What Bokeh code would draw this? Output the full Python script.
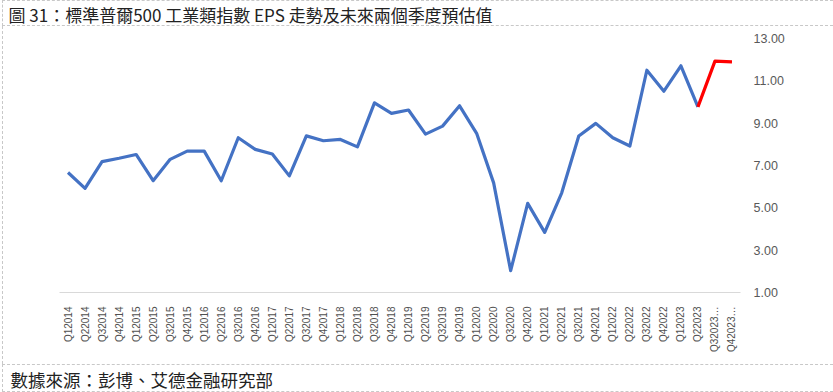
from bokeh.plotting import figure
from bokeh.layouts import column
from bokeh.models import Label, FixedTicker, NumeralTickFormatter, Range1d, FactorRange
from bokeh.embed import file_html
from bokeh.resources import INLINE
import math

title_text = "圖 31：標準普爾500 工業類指數 EPS 走勢及未來兩個季度預估值"
source_text = "數據來源：彭博、艾德金融研究部"

quarters = []
for yr in range(2014, 2024):
    for q in range(1, 5):
        quarters.append(f"Q{q}{yr}")
quarters[-2] = "Q32023…"
quarters[-1] = "Q42023…"

eps_actual = [6.67, 5.92, 7.18, 7.34,
              7.52, 6.28, 7.29, 7.68,
              7.68, 6.28, 8.31, 7.76,
              7.54, 6.51, 8.40, 8.17,
              8.23, 7.88, 9.96, 9.46,
              9.62, 8.48, 8.86, 9.82,
              8.52, 6.18, 2.03, 5.21,
              3.84, 5.71, 8.39, 8.99,
              8.31, 7.92, 11.50, 10.51,
              11.71, 9.77]
eps_forecast = [9.77, 11.93, 11.90]
y_ticks = [1, 3, 5, 7, 9, 11, 13]

W = 833
BORDER = "#c8c8c8"
DASHED = f"1px dashed {BORDER}"
STRIP_STYLES = {"margin-left": "2px", "border-left": DASHED, "border-top": DASHED, "border-bottom": DASHED}


def text_panel(height, text, tx, ty, size):
    f = figure(width=W - 2, height=height, x_range=Range1d(0, 1), y_range=Range1d(0, 1),
               x_axis_type=None, y_axis_type=None, output_backend="svg", toolbar_location=None,
               min_border_left=0, min_border_right=0, min_border_top=0, min_border_bottom=0,
               frame_align=False, styles=STRIP_STYLES)
    f.xgrid.grid_line_color = None
    f.ygrid.grid_line_color = None
    f.outline_line_color = None
    f.add_layout(Label(x=tx, y=ty, x_units="screen", y_units="screen", text=text,
                       text_font="Noto Sans CJK TC", text_font_size=size, text_color="#222222",
                       text_baseline="middle", text_align="left"))
    return f


# title strip: y 0..26 including dashed borders
t = text_panel(26, title_text, 5, 13.5, "17px")

# main chart: canvas y 26..364
ML, MR, MT, MB = 56, 94, 12, 72
p = figure(width=W - 2, height=338, x_range=FactorRange(*quarters, range_padding=0),
           y_range=Range1d(1, 13), y_axis_location="right",
           output_backend="svg", toolbar_location=None, frame_align=False,
           min_border_left=ML, min_border_right=MR, min_border_top=MT, min_border_bottom=MB,
           styles={"margin-left": "2px", "border-left": DASHED})
p.outline_line_color = None
p.xgrid.grid_line_color = None
p.ygrid.grid_line_color = None

p.line(quarters[:len(eps_actual)], eps_actual, line_color="#4472C4", line_width=3.2, line_join="round")
p.line(quarters[len(eps_actual) - 1:], eps_forecast, line_color="#FF0000", line_width=3.2, line_join="round")

xa = p.xaxis[0]
xa.axis_line_color = "#d9d9d9"
xa.axis_line_width = 1.2
xa.major_tick_line_color = None
xa.minor_tick_line_color = None
xa.major_label_orientation = math.pi / 2
xa.major_label_text_font = "Liberation Sans"
xa.major_label_text_font_size = "10px"
xa.major_label_text_color = "#505050"
xa.major_label_standoff = 8

ya = p.yaxis[0]
ya.ticker = FixedTicker(ticks=y_ticks)
ya.formatter = NumeralTickFormatter(format="0.00")
ya.axis_line_color = None
ya.major_tick_line_color = None
ya.minor_tick_line_color = None
ya.major_label_text_font = "Liberation Sans"
ya.major_label_text_font_size = "12.5px"
ya.major_label_text_color = "#595959"
ya.major_label_standoff = 7

# source strip: y 364..392 including dashed borders
s = text_panel(28, source_text, 7, 14.5, "17.5px")

layout = column(t, p, s, spacing=0)
open("out.html", "w").write(file_html(layout, INLINE))
